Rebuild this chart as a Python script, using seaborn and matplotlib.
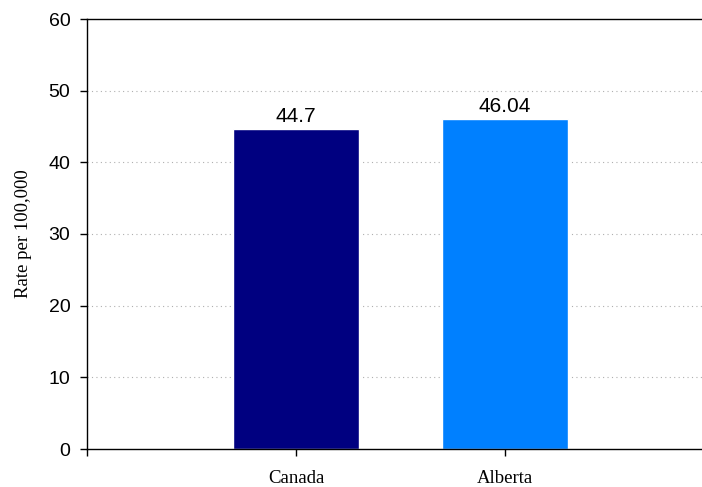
import pandas as pd
import matplotlib
matplotlib.use("Agg")
import matplotlib.pyplot as plt
import seaborn as sns

regions = ["Canada", "Alberta"]
rates = [44.7, 46.04]
value_labels = ["44.7", "46.04"]
bar_colors = ["#000080", "#0080FF"]
y_ticks = [0, 10, 20, 30, 40, 50, 60]


def main():
    sns.set_style("white")
    plt.rcParams["font.family"] = ["Liberation Sans", "DejaVu Sans"]
    plt.rcParams["text.color"] = "black"
    plt.rcParams["xtick.color"] = "black"
    plt.rcParams["ytick.color"] = "black"
    plt.rcParams["axes.labelcolor"] = "black"

    df = pd.DataFrame({"region": regions, "rate": rates})

    fig = plt.figure(figsize=(7.02, 4.87), dpi=100)
    # the right side of the plot area runs past the image edge, as in the original
    ax = fig.add_axes([87 / 702, 38 / 487, 627 / 702, 430 / 487])

    sns.barplot(data=df, x="region", y="rate", hue="region",
                palette=bar_colors, width=0.6, saturation=1,
                legend=False, ax=ax)

    for container, lab in zip(ax.containers, value_labels):
        ax.bar_label(container, labels=[lab], padding=2, fontsize=15, color="black")

    ax.set_xlim(-1, 2)
    ax.set_ylim(0, 60)
    ax.set_yticks(y_ticks)
    ax.set_yticklabels([str(t) for t in y_ticks], fontsize=14)
    ax.set_xticks([-1, 0, 1])
    ax.set_xticklabels(["", "Canada", "Alberta"], fontsize=13.5,
                       family=["Liberation Serif", "DejaVu Serif"])
    ax.tick_params(axis="x", bottom=True, length=5, width=1, color="black",
                   pad=10, direction="out")
    ax.tick_params(axis="y", left=True, length=5, width=1, color="black",
                   pad=7, direction="out")

    for yv in y_ticks[1:-1]:
        ax.axhline(yv, color="#b0b0b0", linestyle=(0, (1, 3)), linewidth=0.8, zorder=0)

    for side in ["left", "bottom", "top", "right"]:
        ax.spines[side].set_color("black")
        ax.spines[side].set_linewidth(1)

    ax.set_xlabel("")
    ax.set_ylabel("Rate per 100,000", fontsize=13.5,
                  family=["Liberation Serif", "DejaVu Serif"], labelpad=12)

    fig.savefig("out.png", dpi=100)


if __name__ == "__main__":
    main()
